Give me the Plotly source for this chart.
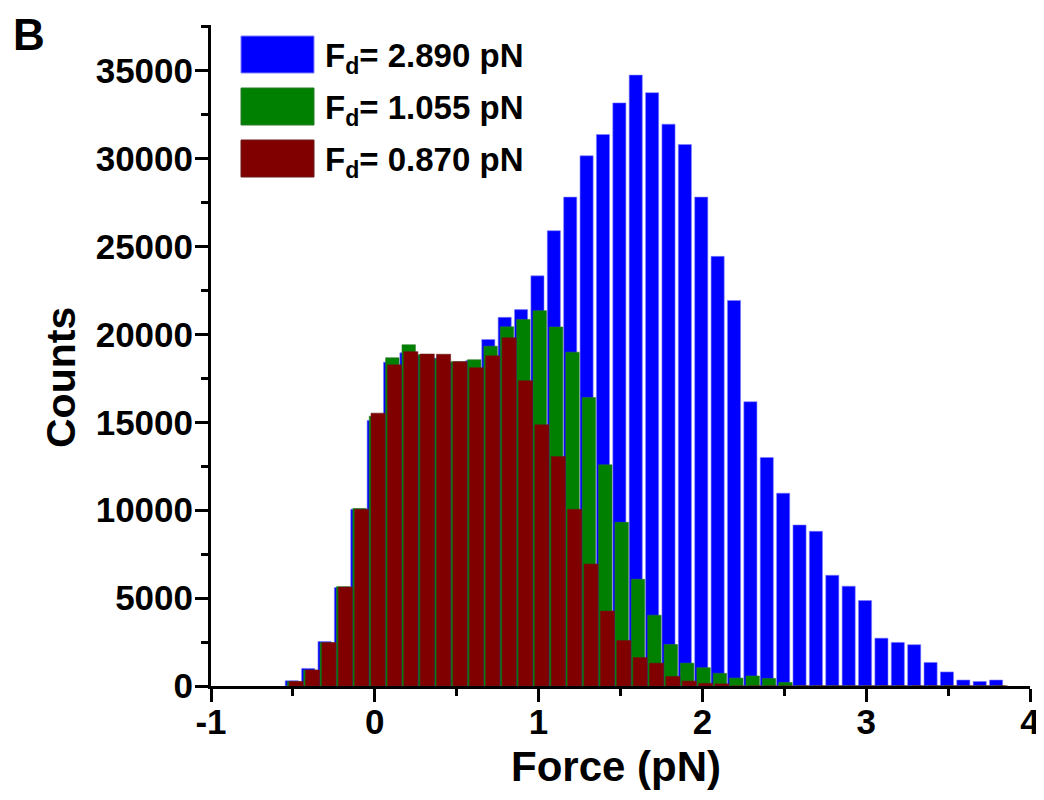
import plotly.graph_objects as go

# ---- data ----
bin_centers = [-0.5, -0.4, -0.3, -0.2, -0.1, 0.0, 0.1, 0.2, 0.3, 0.4, 0.5, 0.6, 0.7, 0.8, 0.9,
               1.0, 1.1, 1.2, 1.3, 1.4, 1.5, 1.6, 1.7, 1.8, 1.9, 2.0, 2.1, 2.2, 2.3, 2.4,
               2.5, 2.6, 2.7, 2.8, 2.9, 3.0, 3.1, 3.2, 3.3, 3.4, 3.5, 3.6, 3.7, 3.8]

counts_2890 = [300, 1000, 2530, 5600, 10060, 15100, 18420, 18950, 18800, 18650, 18400, 18500, 19710, 20970, 21410,
               23330, 25900, 27810, 30160, 31370, 33170, 34750, 33750, 31960, 30800, 27810, 24440, 21930, 16170, 13000,
               10970, 9160, 8800, 6300, 5680, 4860, 2720, 2480, 2350, 1340, 800, 340, 260, 340]

counts_1055 = [250, 900, 2460, 5650, 10100, 15340, 18670, 19410, 18850, 18600, 18450, 18560, 19330, 20430, 20850,
               21350, 20420, 18990, 16410, 12580, 9310, 6070, 4030, 2360, 1300, 1040, 720, 450, 570, 430,
               200, 0, 0, 0, 0, 0, 0, 0, 0, 0, 0, 0, 0, 0]

counts_0870 = [260, 910, 2470, 5630, 10050, 15520, 18270, 19020, 18880, 18870, 18450, 18110, 18780, 19810, 17370,
               14860, 13050, 10050, 6940, 4260, 2590, 1620, 1300, 545, 280, 150, 120, 0, 0, 0,
               0, 0, 0, 0, 0, 0, 0, 0, 0, 0, 0, 0, 0, 0]

series_labels = ["F<sub>d</sub>= 2.890 pN", "F<sub>d</sub>= 1.055 pN", "F<sub>d</sub>= 0.870 pN"]
series_colors = ["#0000FF", "#008000", "#800000"]
series_edge = ["#8080FF", "#2a7a2a", "#6a1a1a"]
series_shift = [-0.007, 0.007, 0.02]
series_width = [0.08, 0.082, 0.086]

x_ticks = [-1, 0, 1, 2, 3, 4]
y_ticks = [0, 5000, 10000, 15000, 20000, 25000, 30000, 35000]

# ---- figure ----
# the page body adds an 8px margin, so the figure is offset by 8px
OFF = 8
W, H = 1036, 792
plot_left, plot_right, plot_top, plot_bottom = 211, 1030, 25, 686   # in screenshot pixels
L = plot_left - OFF
R = W - (plot_right - OFF)
T = plot_top - OFF
B = H - (plot_bottom - OFF)
pw, ph = W - L - R, H - T - B

fig = go.Figure()
for vals, col, edge, sh, wd in zip([counts_2890, counts_1055, counts_0870],
                                   series_colors, series_edge, series_shift, series_width):
    fig.add_trace(go.Bar(
        x=[c + sh for c in bin_centers], y=vals, width=wd,
        marker=dict(color=col, line=dict(color=edge, width=0.6)),
        showlegend=False,
    ))

font_family = "Liberation Sans, Arial, sans-serif"

fig.update_layout(
    width=W, height=H,
    margin=dict(l=L, r=R, t=T, b=B, autoexpand=False),
    barmode="overlay",
    plot_bgcolor="white", paper_bgcolor="white",
    font=dict(family=font_family, color="black"),
    xaxis=dict(
        range=[-1, 4], tickvals=x_ticks, ticktext=[str(v) for v in x_ticks],
        showline=True, linecolor="black", linewidth=3, mirror=False,
        ticks="outside", ticklen=13, tickwidth=3, tickcolor="black",
        minor=dict(dtick=0.5, tick0=0, ticks="outside", ticklen=7, tickwidth=3, tickcolor="black"),
        showgrid=False, zeroline=False, automargin=False,
        ticklabelstandoff=-10, ticklabeloverflow="allow",
        tickfont=dict(size=35, weight="bold", family=font_family),
    ),
    yaxis=dict(
        range=[0, 37600], tickvals=y_ticks, ticktext=[str(v) for v in y_ticks],
        showline=True, linecolor="black", linewidth=3, mirror=False,
        ticks="outside", ticklen=13, tickwidth=3, tickcolor="black",
        minor=dict(dtick=2500, tick0=0, ticks="outside", ticklen=7, tickwidth=3, tickcolor="black"),
        showgrid=False, zeroline=False, automargin=False,
        ticklabelstandoff=-5, ticklabeloverflow="allow",
        tickfont=dict(size=35, weight="bold", family=font_family),
    ),
)

def px_x(px):
    return (px - OFF - L) / pw

def px_y(py):
    return (H - B - (py - OFF)) / ph

# axis titles
fig.add_annotation(text="<b>Force (pN)</b>", x=px_x(616), y=px_y(766), xref="paper", yref="paper",
                   showarrow=False, font=dict(size=42), xanchor="center", yanchor="middle")
fig.add_annotation(text="<b>Counts</b>", x=px_x(61), y=px_y(378), xref="paper", yref="paper",
                   showarrow=False, font=dict(size=41), textangle=-90, xanchor="center", yanchor="middle")
# panel letter
fig.add_annotation(text="<b>B</b>", x=px_x(29), y=px_y(8), xref="paper", yref="paper",
                   showarrow=False, font=dict(size=44), xanchor="center", yanchor="top")

# legend (manual)
box_tops = [36, 88, 140]
for lab, col, edge, top in zip(series_labels, series_colors, series_edge, box_tops):
    fig.add_shape(type="rect", xref="paper", yref="paper",
                  x0=px_x(241), x1=px_x(314), y0=px_y(top), y1=px_y(top + 37),
                  fillcolor=col, line=dict(color=edge, width=1))
    fig.add_annotation(text="<b>" + lab + "</b>", x=px_x(323), y=px_y(top + 22), xref="paper", yref="paper",
                       showarrow=False, font=dict(size=33), xanchor="left", yanchor="middle")

fig.write_html("out.html")
